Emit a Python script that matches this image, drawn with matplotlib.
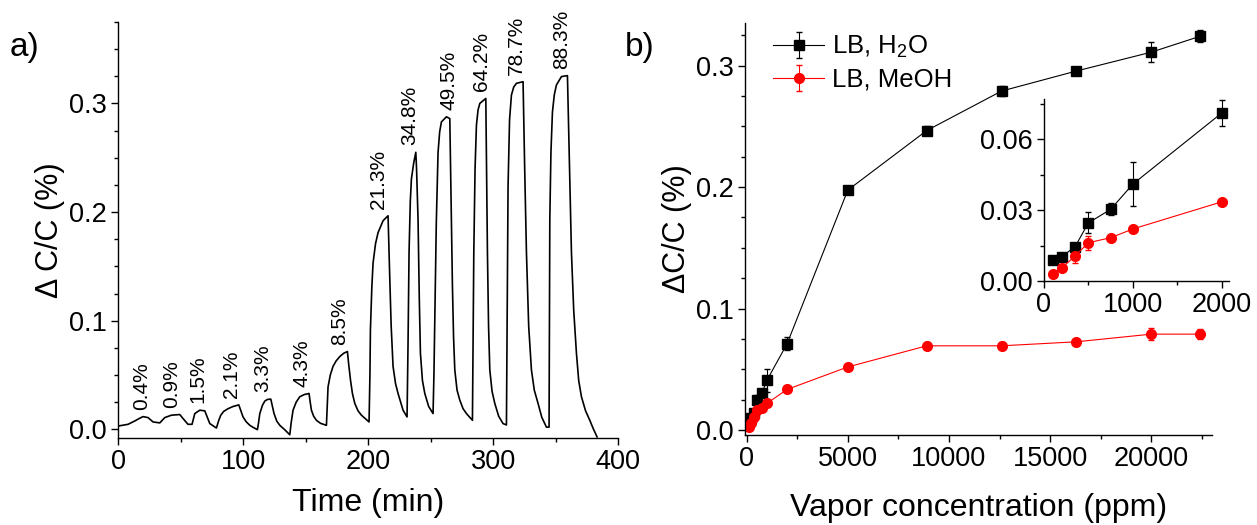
import matplotlib
matplotlib.use('Agg')
import matplotlib.pyplot as plt
from matplotlib.ticker import MultipleLocator

plt.rcParams['font.family'] = ['Liberation Sans', 'DejaVu Sans']
plt.rcParams['mathtext.default'] = 'regular'

# panel a) - capacitance response vs time
time_min = [0, 8, 13.4, 17, 20, 24, 28, 33.4,
            37.4, 42.7, 49.4, 52, 56, 59.2,
            61.4, 65.4, 69.4, 73.4, 78.7,
            80.5, 82.2, 84.5, 88, 92, 96.6, 98.3, 100, 102.5, 105.4, 108.5, 111.5,
            112.4, 113.4, 115.5, 117.4, 119.5, 122.2, 123.5, 124.8, 127, 129.4, 133, 137.4,
            138.5, 140, 142.5, 145.4, 149, 152.8, 153.6, 154.7, 156.5, 158.7, 162, 166.7,
            167.3, 168, 169.8, 172, 174.5, 177.4, 180.5, 183.5, 184.5, 186, 187.5, 189.4,
            192, 194.7, 200.8,
            201.5, 201.9, 203, 204, 206, 208, 212, 216, 216.6, 217.4, 218.5, 220, 222, 224,
            228, 231.2,
            232, 232.8, 233.8, 234.7, 236.5, 238.2, 238.8, 240, 241, 241.9, 243.5, 245.4,
            248.5, 252,
            252.7, 253.4, 254.6, 256, 257.3, 258.7, 262.7, 265.4, 266.3, 267.5, 268.4, 269.4,
            271.2, 273.4, 276, 278.7, 283.5,
            284, 284.6, 285.6, 286.7, 288, 289.4, 294.2, 294.8, 295.5, 296.4, 297.4, 299.2,
            301.4, 304.5, 308, 310.7,
            311.3, 312, 313.2, 314.7, 316.5, 318.7, 324, 325.3, 326.7, 328.5, 330.7, 333,
            336, 339, 342.7, 344.8,
            345.1, 345.4, 346.3, 347.5, 349, 350.7, 354.7, 359.5, 361, 362.7, 364.5, 366.7,
            368.5, 370.7, 374, 377.4, 380, 383.2]
dcc = [0.003, 0.0046, 0.0077, 0.010, 0.0117, 0.0108, 0.0068, 0.0059,
       0.0108, 0.013, 0.0136, 0.0099, 0.0046, 0.0046,
       0.0145, 0.0176, 0.017, 0.0053, 0.0012,
       0.008, 0.013, 0.0165, 0.019, 0.021, 0.0225, 0.017, 0.0114, 0.007, 0.0037, 0.0015, -0.0003,
       0.006, 0.0145, 0.022, 0.026, 0.0275, 0.0278, 0.021, 0.0145, 0.0075, 0.0037, 0.0, -0.005,
       0.006, 0.0176, 0.025, 0.030, 0.032, 0.033, 0.026, 0.0176, 0.012, 0.0083, 0.0055, 0.0037,
       0.02, 0.039, 0.05, 0.058, 0.063, 0.067, 0.07, 0.0716, 0.06, 0.045, 0.033, 0.0238,
       0.017, 0.013, 0.0068,
       0.05, 0.0917, 0.13, 0.153, 0.171, 0.181, 0.192, 0.1966, 0.17, 0.138, 0.095, 0.058, 0.042, 0.033,
       0.0176, 0.0114,
       0.08, 0.163, 0.21, 0.2306, 0.245, 0.255, 0.24, 0.193, 0.12, 0.070, 0.045, 0.033,
       0.021, 0.0145,
       0.05, 0.101, 0.19, 0.255, 0.274, 0.283, 0.2877, 0.286, 0.22, 0.132, 0.085, 0.0546,
       0.036, 0.0269, 0.019, 0.0145, 0.0083,
       0.08, 0.163, 0.24, 0.280, 0.294, 0.300, 0.3046, 0.24, 0.163, 0.095, 0.0546, 0.035,
       0.0238, 0.012, 0.0053, 0.004,
       0.11, 0.224, 0.285, 0.3077, 0.315, 0.3185, 0.320, 0.24, 0.163, 0.095, 0.0546, 0.036,
       0.0238, 0.011, 0.002, 0.002,
       0.10, 0.1935, 0.255, 0.292, 0.308, 0.317, 0.3247, 0.3256, 0.25, 0.163, 0.11, 0.070,
       0.045, 0.030, 0.017, 0.0083, 0.001, -0.007]

pulse_labels = ['0.4%', '0.9%', '1.5%', '2.1%', '3.3%', '4.3%', '8.5%',
                '21.3%', '34.8%', '49.5%', '64.2%', '78.7%', '88.3%']
pulse_time = [19, 43, 64, 91, 116, 147, 177, 208, 233, 265, 291, 319, 355]
pulse_peak = [0.0117, 0.0136, 0.0176, 0.0225, 0.0278, 0.033, 0.0716,
              0.1966, 0.255, 0.2877, 0.3046, 0.320, 0.3256]

# panel b) - response vs vapour concentration
h2o_ppm = [100, 200, 350, 500, 750, 1000, 2000, 5000, 8900, 12600, 16300, 20000, 22400]
h2o_dcc = [0.009, 0.0103, 0.0145, 0.0246, 0.0303, 0.041, 0.0711,
           0.1975, 0.2465, 0.279, 0.2955, 0.311, 0.324]
h2o_err = [0.001, 0.001, 0.0015, 0.0045, 0.0025, 0.0093, 0.0054,
           0.003, 0.004, 0.004, 0.003, 0.0085, 0.005]
meoh_ppm = [100, 200, 350, 500, 750, 1000, 2000, 5000, 8900, 12600, 16300, 20000, 22400]
meoh_dcc = [0.0028, 0.0055, 0.0106, 0.0162, 0.0183, 0.022, 0.0335,
            0.052, 0.0694, 0.0694, 0.0727, 0.079, 0.079]
meoh_err = [0.0005, 0.0008, 0.003, 0.003, 0.001, 0.001, 0.001,
            0.002, 0.003, 0.003, 0.002, 0.005, 0.004]


def style(ax, fs):
    ax.spines['top'].set_visible(False)
    ax.spines['right'].set_visible(False)
    for s in ['left', 'bottom']:
        ax.spines[s].set_linewidth(1.0)
    ax.tick_params(which='major', direction='out', length=5, width=1, labelsize=fs, pad=3)
    ax.tick_params(which='minor', direction='out', length=3, width=1)


fig = plt.figure(figsize=(12.57, 5.25), dpi=100)

# a)
ax1 = fig.add_axes([0.0939, 0.1657, 0.3978, 0.7925])
ax1.plot(time_min, dcc, color='black', lw=1.2)
for lbl, t, p in zip(pulse_labels, pulse_time, pulse_peak):
    ax1.annotate(lbl, xy=(t, p), xytext=(0, 5), textcoords='offset points',
                 rotation=90, ha='center', va='bottom', fontsize=15)
ax1.set_xlim(0, 400)
ax1.set_ylim(-0.008, 0.375)
ax1.xaxis.set_major_locator(MultipleLocator(100))
ax1.xaxis.set_minor_locator(MultipleLocator(50))
ax1.yaxis.set_major_locator(MultipleLocator(0.1))
ax1.yaxis.set_minor_locator(MultipleLocator(0.025))
ax1.yaxis.set_major_formatter(plt.FormatStrFormatter('%.1f'))
style(ax1, 19.5)
ax1.set_xlabel('Time (min)', fontsize=23, labelpad=9)
ax1.set_ylabel('\u0394 C/C (%)', fontsize=22, labelpad=3)

# b)
ax2 = fig.add_axes([0.5927, 0.1714, 0.3715, 0.7848])
ax2.errorbar(h2o_ppm, h2o_dcc, yerr=h2o_err, color='black', marker='s', ms=7,
             lw=0.8, elinewidth=0.8, capsize=2.5, label='LB, H$_2$O')
ax2.errorbar(meoh_ppm, meoh_dcc, yerr=meoh_err, color='red', marker='o', ms=7,
             lw=0.8, elinewidth=0.8, capsize=2.5, label='LB, MeOH')
ax2.set_xlim(-80, 23000)
ax2.set_ylim(-0.004, 0.335)
ax2.xaxis.set_major_locator(MultipleLocator(5000))
ax2.xaxis.set_minor_locator(MultipleLocator(2500))
ax2.yaxis.set_major_locator(MultipleLocator(0.1))
ax2.yaxis.set_minor_locator(MultipleLocator(0.025))
ax2.yaxis.set_major_formatter(plt.FormatStrFormatter('%.1f'))
style(ax2, 19.5)
ax2.set_xlabel('Vapor concentration (ppm)', fontsize=23, labelpad=15)
ax2.set_ylabel('\u0394C/C (%)', fontsize=22, labelpad=3)
ax2.legend(loc='upper left', bbox_to_anchor=(0.01, 1.03), frameon=False,
           fontsize=18.5, handlelength=2.0, handletextpad=0.3, labelspacing=0.3)

# inset
ax3 = fig.add_axes([0.8305, 0.4648, 0.1472, 0.3467])
ax3.errorbar(h2o_ppm[:7], h2o_dcc[:7], yerr=h2o_err[:7], color='black', marker='s',
             ms=7, lw=0.8, elinewidth=0.8, capsize=2.5, clip_on=False)
ax3.errorbar(meoh_ppm[:7], meoh_dcc[:7], yerr=meoh_err[:7], color='red', marker='o',
             ms=7, lw=0.8, elinewidth=0.8, capsize=2.5, clip_on=False)
ax3.set_xlim(0, 2080)
ax3.set_ylim(0, 0.077)
ax3.xaxis.set_major_locator(MultipleLocator(1000))
ax3.xaxis.set_minor_locator(MultipleLocator(500))
ax3.yaxis.set_major_locator(MultipleLocator(0.03))
ax3.yaxis.set_minor_locator(MultipleLocator(0.015))
ax3.yaxis.set_major_formatter(plt.FormatStrFormatter('%.2f'))
style(ax3, 19.5)

fig.text(0.008, 0.91, 'a)', fontsize=24, va='center')
fig.text(0.497, 0.91, 'b)', fontsize=24, va='center')

fig.savefig('out.png', dpi=100)
